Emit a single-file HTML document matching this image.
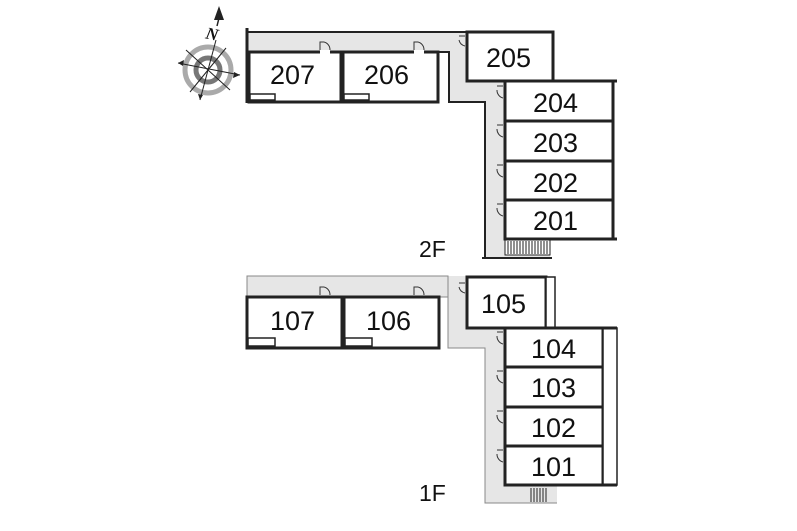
<!DOCTYPE html>
<html><head><meta charset="utf-8"><style>
html,body{margin:0;padding:0;background:#fff;}
svg{display:block;}
text{font-family:"Liberation Sans",sans-serif;font-size:27px;fill:#111;}
</style></head><body>
<svg width="797" height="531" viewBox="0 0 797 531" xmlns="http://www.w3.org/2000/svg">
<g>
<circle cx="208" cy="70" r="23" fill="none" stroke="#aaa" stroke-width="5"/>
<circle cx="208" cy="70" r="12" fill="none" stroke="#777" stroke-width="5"/>
<g stroke="#222" stroke-width="1">
<line x1="178" y1="63" x2="240" y2="75"/>
<line x1="200" y1="100" x2="216" y2="40"/>
<line x1="186" y1="50" x2="230" y2="90"/>
<line x1="190" y1="92" x2="226" y2="48"/>
</g>
<polygon points="178,63 184,60 183,66" fill="#222"/>
<polygon points="240,75 234,72 233,78" fill="#222"/>
<polygon points="200,100 198,94 203,95" fill="#222"/>
<polygon points="219,6 214,20 224,20" fill="#222"/>
<line x1="219" y1="18" x2="217" y2="26" stroke="#222" stroke-width="1.5"/>
<text x="206" y="40" style="font-family:'Liberation Serif',serif;font-style:italic;font-weight:bold;font-size:17px" transform="rotate(12 214 34)">N</text>
</g>

<!-- 2F -->
<path d="M247,32 H467 V81 H505 V239 H550 V257 H485 V102 H449 V52 H247 Z" fill="#e6e6e6"/>
<line x1="247" y1="28" x2="247" y2="103" stroke="#222" stroke-width="3"/>
<line x1="247" y1="32" x2="467" y2="32" stroke="#222" stroke-width="2"/>
<path d="M438,52 H449 V102 H485 V258" fill="none" stroke="#222" stroke-width="2"/>
<line x1="482" y1="258" x2="552" y2="258" stroke="#222" stroke-width="2"/>
<g fill="#fff" stroke="#222" stroke-width="3">
<rect x="249" y="52" width="92" height="50"/>
<rect x="343" y="52" width="95" height="50"/>
<rect x="467" y="32" width="86" height="49"/>
<rect x="505" y="81" width="108" height="40"/>
<rect x="505" y="121" width="108" height="40"/>
<rect x="505" y="161" width="108" height="39"/>
<rect x="505" y="200" width="108" height="39"/>
</g>
<line x1="505" y1="81" x2="617" y2="81" stroke="#222" stroke-width="3"/>
<line x1="505" y1="239" x2="617" y2="239" stroke="#222" stroke-width="3"/>
<g fill="#fff" stroke="#222" stroke-width="1.5">
<rect x="250" y="94" width="25" height="6"/><rect x="344" y="94" width="25" height="6"/>
</g>
<g fill="#fff" stroke="none"><rect x="320" y="50" width="10" height="4"/><rect x="414" y="50" width="10" height="4"/></g>
<g stroke="#222" stroke-width="1">
<rect x="505" y="240" width="45" height="15" fill="#fff"/>
<path d="M508,241V254M511,241V254M514,241V254M517,241V254M520,241V254M523,241V254M526,241V254M529,241V254M532,241V254M535,241V254M538,241V254M541,241V254M544,241V254M547,241V254"/>
</g>
<text x="486" y="67">205</text>
<text x="270" y="84">207</text>
<text x="364" y="84">206</text>
<text x="533" y="112">204</text>
<text x="533" y="152">203</text>
<text x="533" y="192">202</text>
<text x="533" y="230">201</text>
<text x="419" y="257" style="font-size:23px">2F</text>

<!-- 1F -->
<path d="M247,276 H467 V328 H505 V485 H557 V503 H485 V348 H448 V297 H247 Z" fill="#e6e6e6"/>
<path d="M247,297 V276 H448 V297" fill="none" stroke="#888" stroke-width="1"/>
<path d="M439,297 H448 V348 H485 V503 H557" fill="none" stroke="#888" stroke-width="1"/>
<g fill="#fff" stroke="#222" stroke-width="3">
<rect x="247" y="297" width="95" height="51"/>
<rect x="344" y="297" width="95" height="51"/>
<rect x="467" y="277" width="79" height="51"/>
<rect x="505" y="328" width="98" height="39"/>
<rect x="505" y="367" width="98" height="40"/>
<rect x="505" y="407" width="98" height="39"/>
<rect x="505" y="446" width="98" height="39"/>
</g>
<g fill="#fff" stroke="#222" stroke-width="1.5">
<rect x="546" y="277" width="9" height="51"/>
<rect x="603" y="328" width="14" height="157"/>
<rect x="248" y="338" width="27" height="8"/><rect x="345" y="338" width="27" height="8"/>
</g>
<line x1="505" y1="328" x2="617" y2="328" stroke="#222" stroke-width="3"/>
<line x1="505" y1="485" x2="617" y2="485" stroke="#222" stroke-width="3"/>
<g stroke="#222" stroke-width="1">
<path d="M531,488V502M534,488V502M537,488V502M540,488V502M543,488V502M546,488V502"/>
</g>
<text x="270" y="330">107</text>
<text x="366" y="330">106</text>
<text x="481" y="313">105</text>
<text x="531" y="358">104</text>
<text x="531" y="397">103</text>
<text x="531" y="437">102</text>
<text x="531" y="476">101</text>
<text x="419" y="501" style="font-size:23px">1F</text>

<g fill="none" stroke="#333" stroke-width="1">
<path d="M320,50 V42 H324 M324,42 A8,8 0 0 1 330,50"/>
<path d="M414,50 V42 H418 M418,42 A8,8 0 0 1 424,50"/>
<path d="M320,295 V287 H324 M324,287 A8,8 0 0 1 330,295"/>
<path d="M414,295 V287 H418 M418,287 A8,8 0 0 1 424,295"/>
<path d="M465,36 H459 M465,46 A8,8 0 0 1 459,40"/>
<path d="M465,283 H459 M465,293 A8,8 0 0 1 459,287"/>
<path d="M503,86 H497 M503,98 A8,8 0 0 1 497,90"/>
<path d="M503,125 H497 M503,137 A8,8 0 0 1 497,129"/>
<path d="M503,165 H497 M503,177 A8,8 0 0 1 497,169"/>
<path d="M503,204 H497 M503,216 A8,8 0 0 1 497,208"/>
<path d="M503,332 H497 M503,344 A8,8 0 0 1 497,336"/>
<path d="M503,371 H497 M503,383 A8,8 0 0 1 497,375"/>
<path d="M503,411 H497 M503,423 A8,8 0 0 1 497,415"/>
<path d="M503,450 H497 M503,462 A8,8 0 0 1 497,454"/>
</g>
</svg>
</body></html>
